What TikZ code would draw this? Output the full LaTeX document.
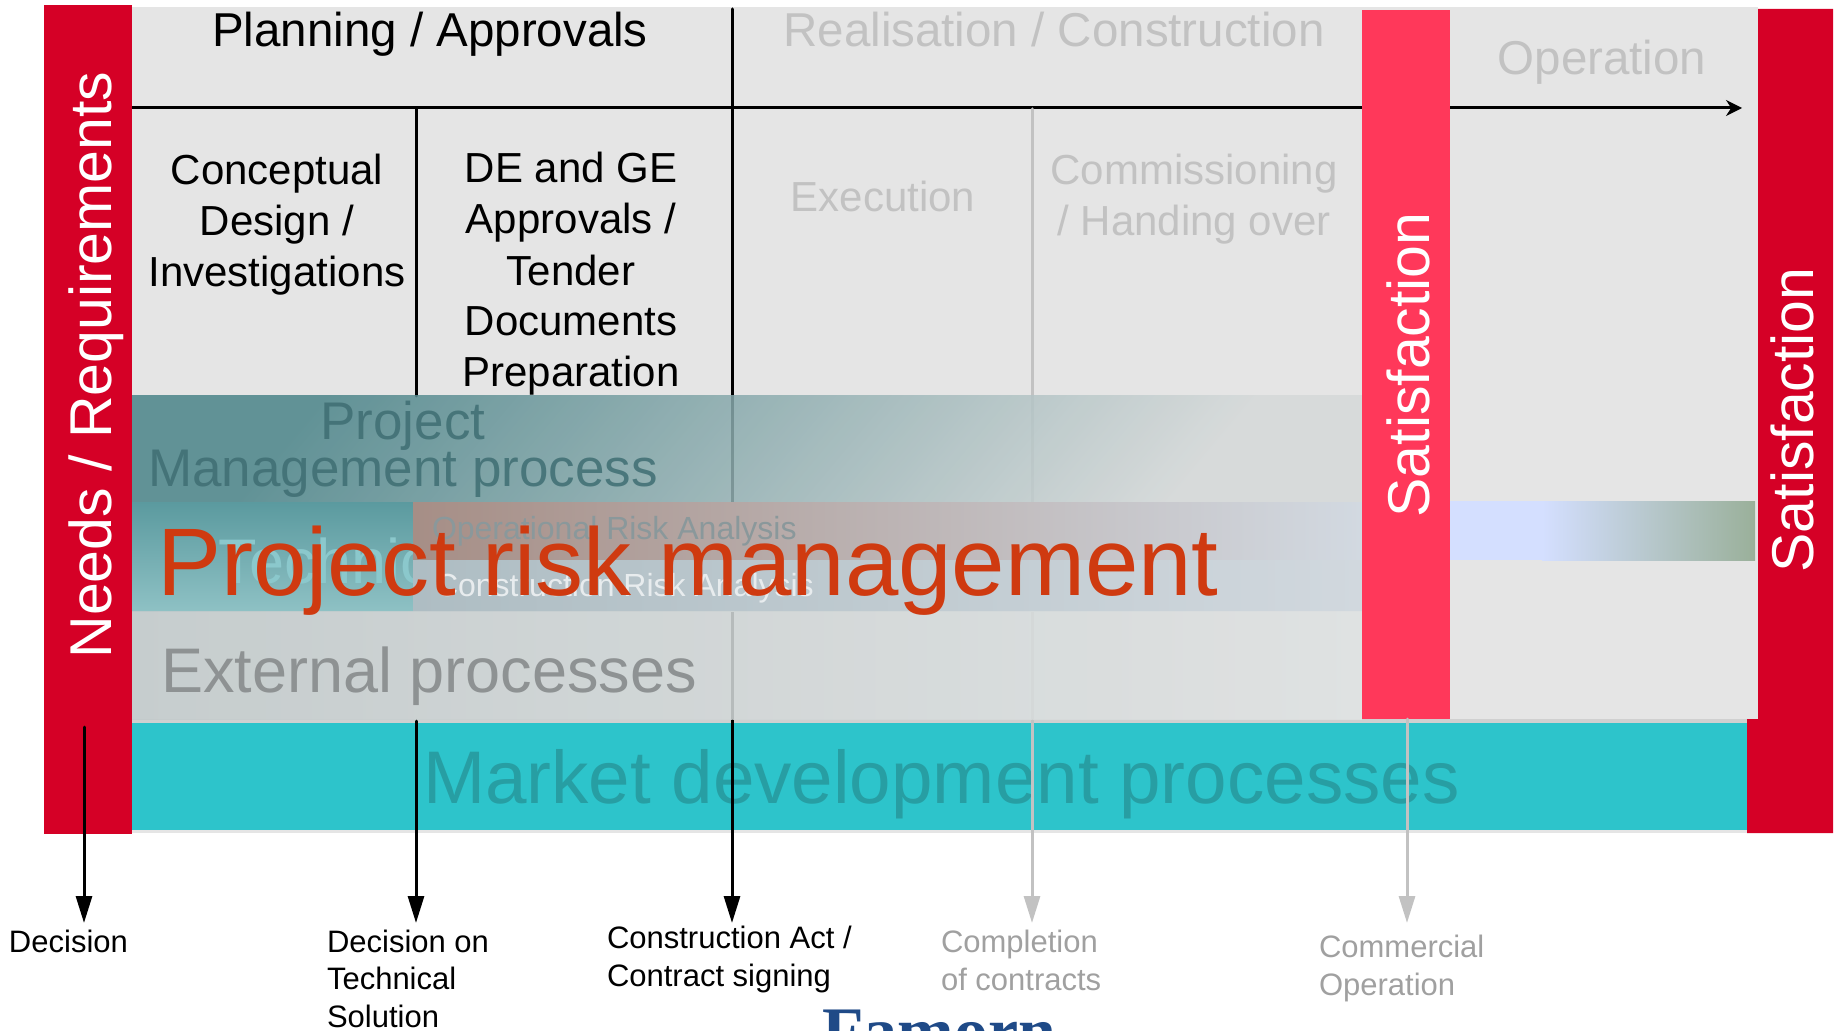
\documentclass[tikz,border=0pt]{standalone}
\usepackage{fontspec}
\setmainfont{Liberation Sans}
\newfontfamily\logofont{Liberation Serif}
\usetikzlibrary{arrows.meta}
\definecolor{needred}{HTML}{D50026}
\definecolor{satpink}{HTML}{FF385A}
\definecolor{panel}{HTML}{E5E5E5}
\definecolor{seam}{HTML}{D0D0D0}
\definecolor{marketteal}{HTML}{2DC4CB}
\definecolor{marketink}{HTML}{279EA3}
\definecolor{riskink}{HTML}{CF3A10}
\definecolor{faded}{HTML}{C2C2C2}
\definecolor{pmdark}{HTML}{4B8489}
\definecolor{pmlight}{HTML}{D5D9D9}
\definecolor{pmink}{HTML}{3F6E73}
\definecolor{riskteala}{HTML}{5B9A9F}
\definecolor{risktealb}{HTML}{8EC1C4}
\definecolor{techink}{HTML}{8BC8CC}
\definecolor{opleft}{HTML}{A68E86}
\definecolor{opmid}{HTML}{CBB3B5}
\definecolor{opright}{HTML}{D2D9E1}
\definecolor{coleft}{HTML}{AEBDC3}
\definecolor{coright}{HTML}{D1D8DE}
\definecolor{exleft}{HTML}{C2CACB}
\definecolor{exright}{HTML}{DFE2E2}
\definecolor{exink}{HTML}{8E9293}
\definecolor{opink}{HTML}{8A989B}
\definecolor{coink}{HTML}{E8ECEE}
\definecolor{stripblue}{HTML}{D4DFFF}
\definecolor{stripgreen}{HTML}{9AB09A}
\definecolor{msgray}{HTML}{A0A0A0}
\definecolor{logoblue}{HTML}{1F4A87}

\begin{document}
\begin{tikzpicture}[x=0.5pt, y=-0.5pt, line cap=round,
    every node/.style={inner sep=0pt, outer sep=0pt},
    fs/.style 2 args={font=\fontsize{#1}{#2}\selectfont},
    phase/.style={fs={23.75}{28}, anchor=base},
    substep/.style={fs={21}{25.5}, anchor=base, align=center},
    vlabel/.style={fs={29.5}{35}, rotate=90, anchor=base, text=white},
    milestone/.style={line width=1.5pt, -{Triangle[length=13.5pt,width=8pt]}},
    mslabel/.style={fs={15.5}{18.75}, anchor=base west, align=left}]
  \useasboundingbox (0,0) rectangle (1839,1031);

  \coordinate (tl0) at (132,108);
  \coordinate (tl1) at (1742,108);
  \coordinate (g1a) at (416,109);
  \coordinate (g1b) at (416,396);
  \coordinate (g2a) at (732,9);
  \coordinate (g2b) at (732,723);
  \coordinate (g3a) at (1032,109);
  \coordinate (g3b) at (1032,723);

  \fill[panel] (132,7) rectangle (1758,723);
  \fill[seam] (132,719) rectangle (1758,723);
  \draw[line width=1.5pt, -{Stealth[length=8pt,width=8pt]}] (tl0) -- (tl1);
  \draw[line width=1.5pt] (g1a) -- (g1b);
  \draw[line width=1.5pt] (g2a) -- (g2b);
  \draw[line width=1.5pt, faded] (g3a) -- (g3b);

  % base of a multi-line node = its last line
  \node[phase] (plan) at (430,47) {Planning / Approvals};
  \node[phase, text=faded] (real) at (1054,47) {Realisation / Construction};
  \node[phase, text=faded] (oper) at (1602,75) {Operation};
  \node[substep] (concept) at (277,287) {Conceptual\\Design /\\Investigations};
  \node[substep] (tender) at (571,387) {DE and GE\\Approvals /\\Tender\\Documents\\Preparation};
  \node[substep, text=faded] (exec) at (883,212) {Execution};
  \node[substep, text=faded] (commis) at (1194,236) {Commissioning\\/ Handing over};

  \shade[left color=pmdark, right color=pmlight, shading angle=50, opacity=0.85] (132,396) rectangle (1362,502);
  \shade[top color=riskteala, bottom color=risktealb] (132,502) rectangle (413,611);
  \node[fs={31.5}{36}, anchor=base west, text=techink] (tech) at (218,583) {Technical};
  \shade[left color=opleft, middle color=opmid, right color=opright] (413,502) rectangle (1362,560);
  \shade[left color=coleft, right color=coright] (413,560) rectangle (1362,611);
  \shade[left color=exleft, right color=exright, opacity=0.88] (132,611) rectangle (1362,719);

  \node[fs={26.5}{24}, align=center, anchor=base, text=pmink, text opacity=0.85] (pm) at (403,487) {Project\\Management process};
  \node[fs={16}{18}, anchor=base west, text=opink] (oprisk) at (432,539) {Operational Risk Analysis};
  \node[fs={16}{18}, anchor=base west, text=coink] (corisk) at (435,596) {Construction Risk Analysis};
  \node[fs={31.5}{36}, anchor=base west, text=exink] (extern) at (161,692) {External processes};
  \node[fs={48}{56}, anchor=base west, text=riskink] (risk) at (157,595) {Project risk management};

  \fill[stripblue] (1450,501) rectangle (1542,560);
  \shade[left color=stripblue, right color=stripgreen] (1542,501) rectangle (1755,560);

  \fill[satpink] (1362,10) rectangle (1450,719);
  \fill[needred] (1758,9) -- (1833,9) -- (1833,833) -- (1747,833) -- (1747,719) -- (1758,719) -- cycle;
  \fill[needred] (44,5) rectangle (132,834);
  \fill[marketteal] (132,723) rectangle (1747,830);
  \fill[panel] (132,830) rectangle (1747,833);
  \node[fs={37.3}{44}, anchor=base west, text=marketink] (market) at (423,803) {Market development processes};

  \node[vlabel] (needs) at (111,365) {Needs / Requirements};
  \node[vlabel] (sat1) at (1429,365) {Satisfaction};
  \node[vlabel] (sat2) at (1813,420) {Satisfaction};

  \coordinate (m1a) at (84,727);
  \coordinate (m1b) at (84,923);
  \coordinate (m2a) at (416,721);
  \coordinate (m2b) at (416,923);
  \coordinate (m3a) at (732,721);
  \coordinate (m3b) at (732,923);
  \coordinate (m4a) at (1032,721);
  \coordinate (m4b) at (1032,923);
  \coordinate (m5a) at (1407,719);
  \coordinate (m5b) at (1407,923);
  \draw[milestone] (m1a) -- (m1b);
  \draw[milestone] (m2a) -- (m2b);
  \draw[milestone] (m3a) -- (m3b);
  \draw[milestone, faded] (m4a) -- (m4b);
  \draw[milestone, faded] (m5a) -- (m5b);

  \node[mslabel] (ms1) at (9,952) {Decision};
  \node[mslabel] (ms2) at (327,1027) {Decision on\\Technical\\Solution};
  \node[mslabel] (ms3) at (607,986) {Construction Act /\\Contract signing};
  \node[mslabel, text=msgray] (ms4) at (941,990) {Completion\\of contracts};
  \node[mslabel, text=msgray] (ms5) at (1319,995) {Commercial\\Operation};

  \node[font=\logofont\bfseries\fontsize{34}{40}\selectfont, anchor=base west, text=logoblue] (logo) at (822,1054) {Famorn};
\end{tikzpicture}
\end{document}
